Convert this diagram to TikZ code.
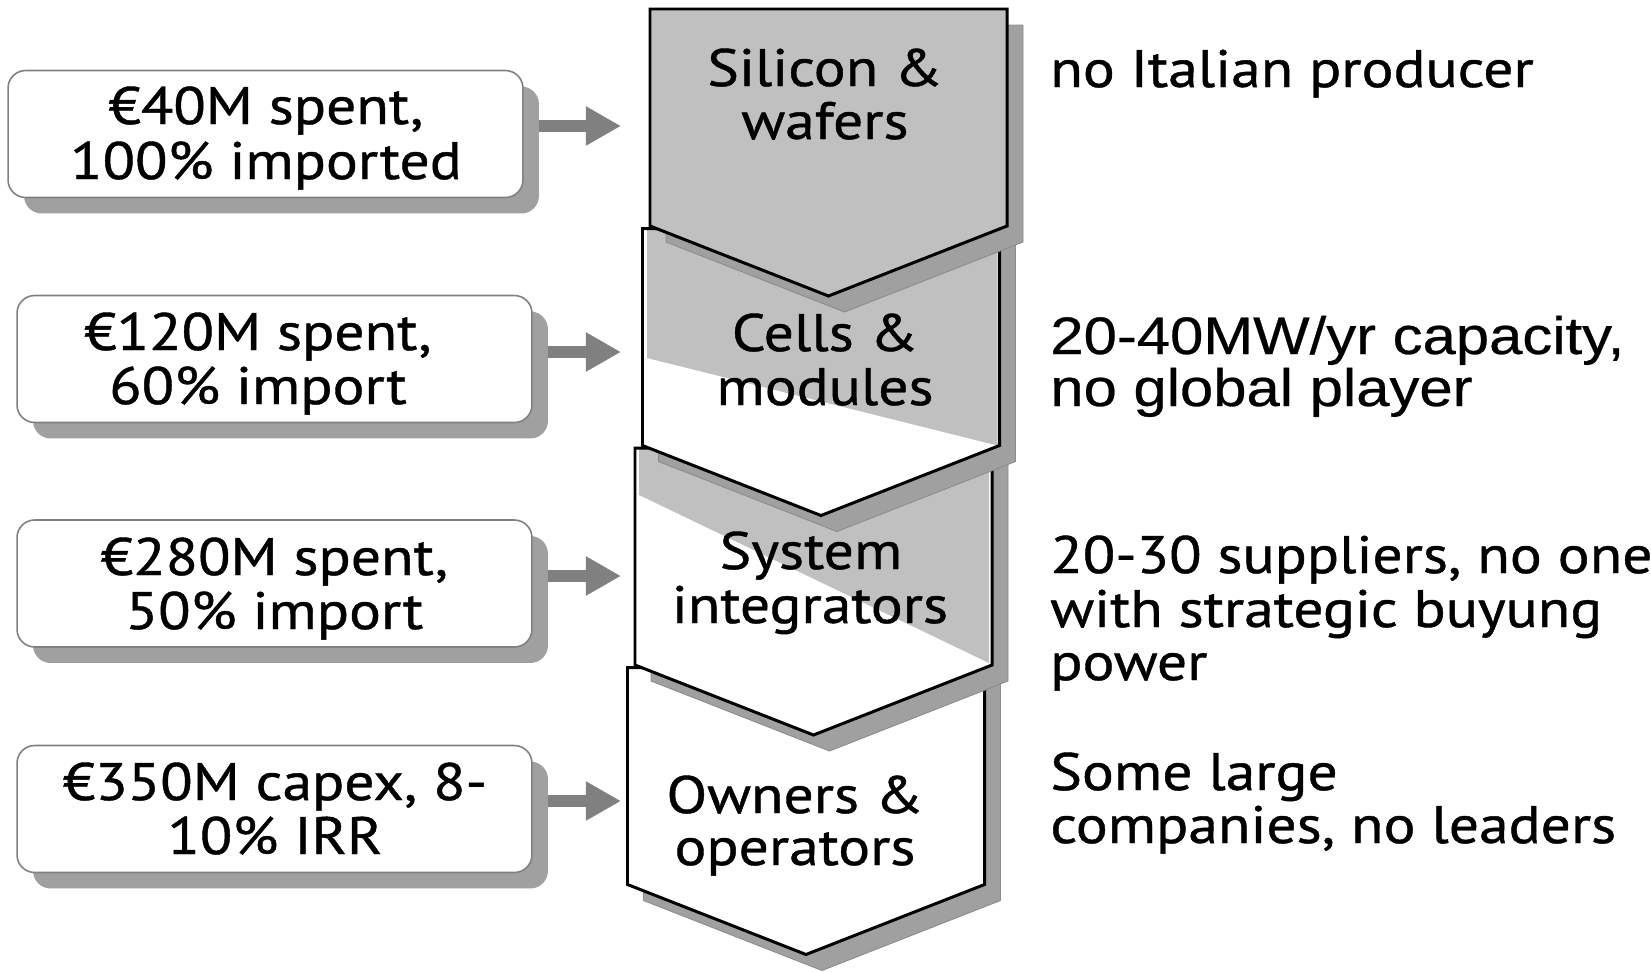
\documentclass[tikz,border=0pt]{standalone}
\usepackage{fontspec}
\setmainfont{PT Sans}[FakeStretch=1.13, FakeBold=0.8]
\newfontfamily\arialf{Liberation Sans}[FakeStretch=1.135, FakeBold=0.5]
\usetikzlibrary{arrows.meta,shadows,backgrounds}
\definecolor{chevgray}{RGB}{192,192,192}
\definecolor{shadowgray}{RGB}{160,160,160}
\definecolor{shadowedge}{RGB}{140,140,140}
\definecolor{arrowgray}{RGB}{128,128,128}
\definecolor{boxedge}{RGB}{128,128,128}
\newcommand\bigfont{\fontsize{30pt}{30pt}\selectfont}
\newcommand\chev[2]{(#1,#2) -- ++(357,0) -- ++(0,217) -- ++(-178.5,70) -- ++(-178.5,-70) -- cycle}
\newcommand\chevshadow[2]{(#1+16,#2+16) -- ++(357,0) -- ++(0,217) -- ++(-178.5,70) -- ++(-178.5,-70) -- cycle}
\begin{document}
\begin{tikzpicture}[x=0.02cm,y=-0.02cm,
  txt/.style={font=\bigfont, inner sep=0pt, anchor=base},
  ltxt/.style={txt, anchor=base west},
  chevline/.style={draw=black, line width=1.7pt, line join=miter},
  chevshade/.style={fill=shadowgray, draw=shadowedge, line width=0.5pt},
  boxnode/.style={draw=boxedge, line width=0.9pt, fill=white, rounded corners=10pt,
    minimum width=10.3cm, minimum height=2.54cm, inner sep=0pt,
    drop shadow={shadow xshift=0.32cm, shadow yshift=-0.32cm, fill=shadowgray, opacity=1}},
  arr/.style={arrowgray, line width=6.6pt, -{Triangle[length=20pt,width=21pt]}}]
\useasboundingbox (0,0) rectangle (1651,971);

% ---- chevron 4: Owners & operators
\path[chevshade] \chevshadow{627.5}{667.5};
\path[chevline, fill=white] \chev{627.5}{667.5};
% ---- chevron 3: System integrators
\path[chevshade] \chevshadow{635}{448};
\path[fill=white] \chev{635}{448};
\begin{scope}
  \clip \chev{635}{448};
  \fill[chevgray] (639,440) -- (989,440) -- (989,663) -- (639,495) -- cycle;
\end{scope}
\path[chevline] \chev{635}{448};
% ---- chevron 2: Cells & modules
\path[chevshade] \chevshadow{642.5}{228.5};
\path[fill=white] \chev{642.5}{228.5};
\begin{scope}
  \clip \chev{642.5}{228.5};
  \fill[chevgray] (647,220) -- (997.5,220) -- (997.5,445.5) -- (647,358) -- cycle;
\end{scope}
\path[chevline] \chev{642.5}{228.5};
% ---- chevron 1: Silicon & wafers
\path[chevshade] \chevshadow{650}{9};
\path[chevline, fill=chevgray] \chev{650}{9};

% ---- chevron texts
\node[txt] (c1a) at (825,86) {Silicon \&};
\node[txt] (c1b) at (825,139) {wafers};
\node[txt] (c2a) at (825,351) {Cells \&};
\node[txt] (c2b) at (825,405) {modules};
\node[txt] (c3a) at (811,569) {System};
\node[txt] (c3b) at (810,623) {integrators};
\node[txt] (c4a) at (795,813) {Owners \&};
\node[txt] (c4b) at (795,865) {operators};

% ---- arrow tips
\coordinate (tip1) at (621,126);
\coordinate (tip2) at (621,352);
\coordinate (tip3) at (621,576);
\coordinate (tip4) at (621,801);

% ---- left boxes
\node[boxnode] (b1) at (265.5,134) {};
\node[boxnode] (b2) at (274.5,359) {};
\node[boxnode] (b3) at (274.5,583.5) {};
\node[boxnode] (b4) at (274.5,809) {};

\begin{scope}[on background layer]
  \fill[white] (0,0) rectangle (1651,971);
  \draw[arr] (b1.east |- tip1) -- (tip1);
  \draw[arr] (b2.east |- tip2) -- (tip2);
  \draw[arr] (b3.east |- tip3) -- (tip3);
  \draw[arr] (b4.east |- tip4) -- (tip4);
\end{scope}

\node[txt] (b1a) at (266,124) {€40M spent,};
\node[txt] (b1b) at (266,179) {100\% imported};
\node[txt] (b2a) at (258,350) {€120M spent,};
\node[txt] (b2b) at (258,404) {60\% import};
\node[txt] (b3a) at (274.5,575) {€280M spent,};
\node[txt] (b3b) at (274.5,629) {50\% import};
\node[txt] (b4a) at (275,800) {€350M capex, 8-};
\node[txt] (b4b) at (275,854) {10\% IRR};

% ---- right texts
\node[ltxt] (r1) at (1050,87) {no Italian producer};
\node[ltxt, font=\bigfont\arialf] (r2a) at (1050,354) {20-40MW/yr capacity,};
\node[ltxt, font=\bigfont\arialf] (r2b) at (1050,406) {no global player};
\node[ltxt] (r3a) at (1050,573) {20-30 suppliers, no one};
\node[ltxt] (r3b) at (1050,627) {with strategic buyung};
\node[ltxt] (r3c) at (1050,680) {power};
\node[ltxt] (r4a) at (1050,790) {Some large};
\node[ltxt] (r4b) at (1050,843) {companies, no leaders};
\end{tikzpicture}
\end{document}
